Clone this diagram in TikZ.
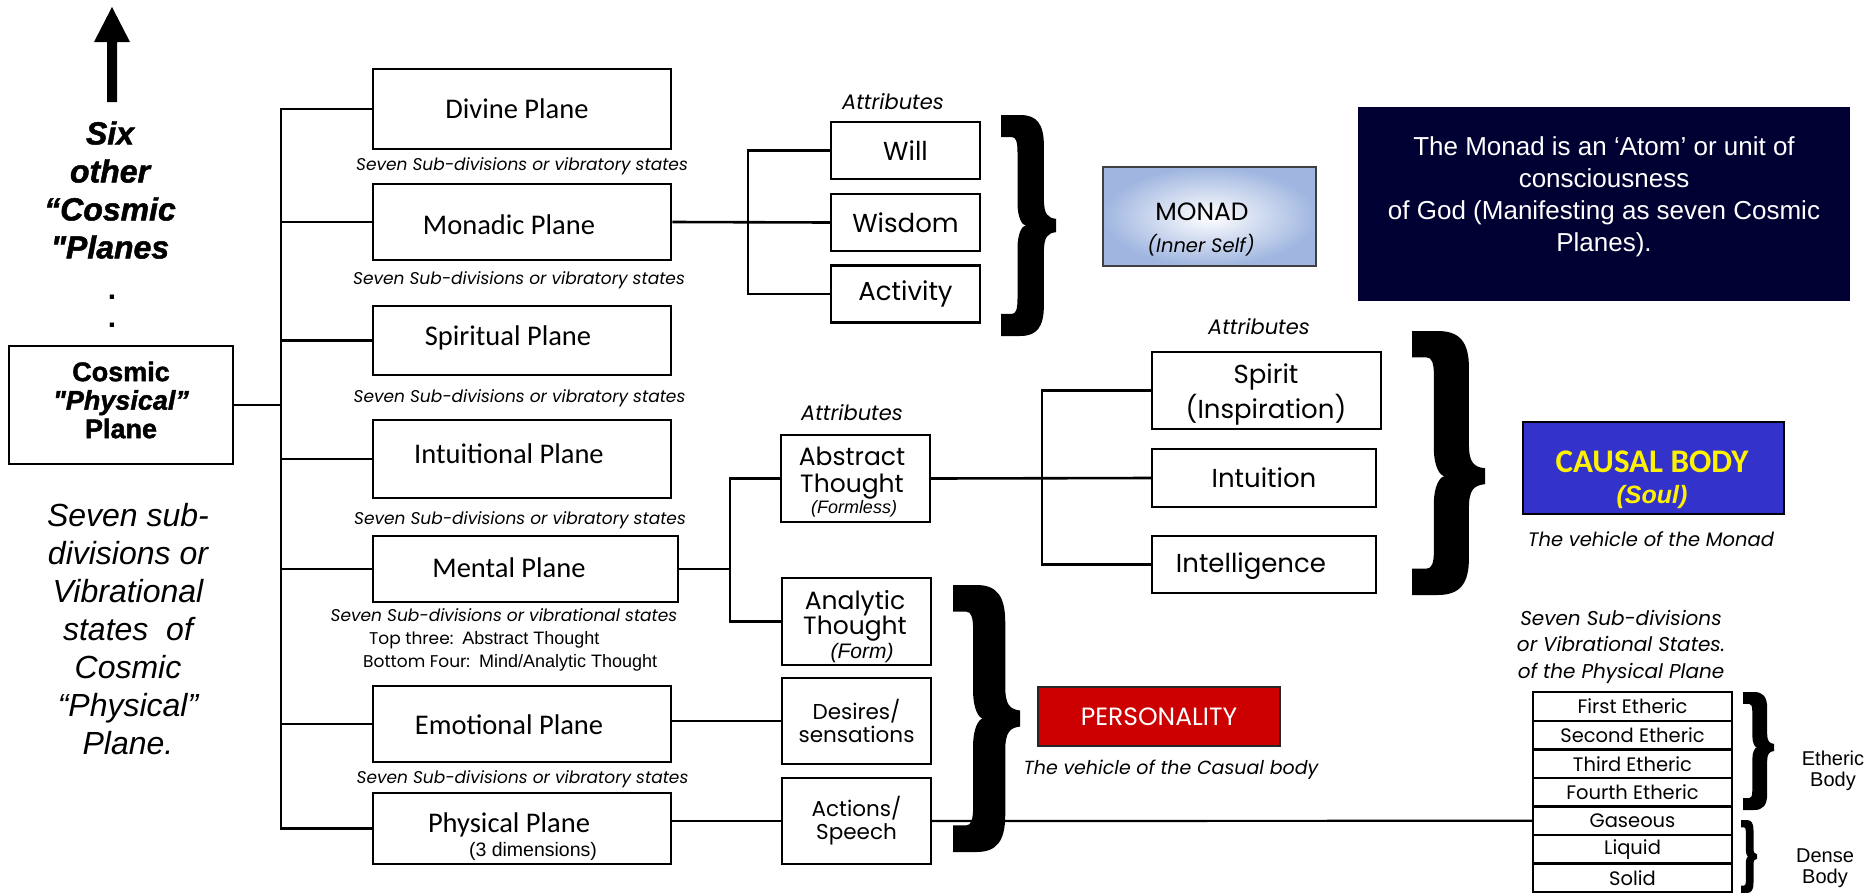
\documentclass[tikz,border=0pt]{standalone}
\usepackage{fontspec}
\setmainfont{Carlito}
\newfontfamily\fut{Poppins}
\newfontfamily\ari{Liberation Sans}
\newfontfamily\heavy{Liberation Sans}[BoldFeatures={FakeBold=1.5},BoldItalicFeatures={FakeBold=1.5}]
\newcommand\fsz[2]{\fontsize{#1pt}{#2pt}\selectfont}
\definecolor{navy}{RGB}{0,0,51}
\definecolor{causalblue}{RGB}{51,51,204}
\definecolor{pred}{RGB}{204,0,0}
\definecolor{glow}{RGB}{160,182,224}
\newcommand\bracefill[5]{%
\fill[shift={(#1,#2)}, xscale=#3, yscale=#4]
 (0,0) -- (0.35,0) .. controls (0.65,0) and (0.78,0.04) .. (0.78,0.14)
 -- (0.78,{#5-0.12}) .. controls (0.78,{#5-0.05}) and (0.85,{#5-0.035}) .. (1,{#5-0.03})
 -- (1,{#5+0.03}) .. controls (0.85,{#5+0.035}) and (0.78,{#5+0.05}) .. (0.78,{#5+0.12})
 -- (0.78,0.86) .. controls (0.78,0.96) and (0.65,1) .. (0.35,1)
 -- (0,1) -- (0,0.9) -- (0.2,0.9) .. controls (0.27,0.9) and (0.3,0.88) .. (0.3,0.83)
 -- (0.3,{#5+0.1}) .. controls (0.3,{#5+0.04}) and (0.38,#5) .. (0.45,#5)
 .. controls (0.38,#5) and (0.3,{#5-0.04}) .. (0.3,{#5-0.1})
 -- (0.3,0.17) .. controls (0.3,0.12) and (0.27,0.1) .. (0.2,0.1) -- (0,0.1) -- cycle;}
\begin{document}
\begin{tikzpicture}[x=1pt,y=-1pt,
  box/.style={draw=black, line width=2.6pt, inner sep=0pt, fill=white},
  conn/.style={line width=2.6pt},
  thinc/.style={line width=2.2pt},
  txt/.style={inner sep=0pt, align=center},
  sub/.style={txt, font=\fut\itshape\fsz{17}{20}},
  pl/.style={txt, font=\fsz{28.5}{34}},
  attr/.style={txt, font=\fut\itshape\fsz{21}{24}},
  row/.style={box, line width=2.4pt, minimum width=199pt, minimum height=28.5pt, font=\fut\fsz{19.5}{20}}
]
\useasboundingbox (0,0) rectangle (1873,892);

% arrow and left texts
\fill (107,102) -- (107,42) -- (94,42) -- (112,7) -- (130,42) -- (117,42) -- (117,102) -- cycle;
\node[txt, font=\heavy\bfseries\itshape\fsz{32}{38}] (six) at (110,190) {Six\\other\\“Cosmic\\"Planes};
\node[txt, font=\ari\bfseries\fsz{30}{30}] (dot1) at (112,297) {.};
\node[txt, font=\ari\bfseries\fsz{30}{30}] (dot2) at (112,325) {.};
\node[box, minimum width=224pt, minimum height=118pt] (cosmic) at (121,405) {};
\node[txt, font=\heavy\bfseries\fsz{27}{28.5}] (cosmic-t) at (121,400) {Cosmic\\{\itshape"Physical”}\\Plane};
\node[txt, font=\ari\itshape\fsz{32}{38}] (left) at (128,629) {Seven sub-\\divisions or\\Vibrational\\states\ \ of\\Cosmic\\“Physical”\\Plane.};

% plane boxes
\node[box, minimum width=298pt, minimum height=80pt] (divine) at (522,109) {};
\node[box, minimum width=298pt, minimum height=76pt] (monadic) at (522,222) {};
\node[box, minimum width=298pt, minimum height=69pt] (spiritual) at (522,340.5) {};
\node[box, minimum width=298pt, minimum height=78pt] (intuitional) at (522,459) {};
\node[box, minimum width=305pt, minimum height=66pt] (mental) at (525.5,569) {};
\node[box, minimum width=298pt, minimum height=76pt] (emotional) at (522,724) {};
\node[box, minimum width=298pt, minimum height=71pt] (physical) at (522,828.5) {};
\node[pl] (divine-t) at (517,109) {Divine Plane};
\node[pl] (monadic-t) at (509,225) {Monadic Plane};
\node[pl] (spiritual-t) at (508,338) {Spiritual Plane};
\node[pl] (intuitional-t) at (509,454) {Intuitional Plane};
\node[pl] (mental-t) at (509,568) {Mental Plane};
\node[pl] (emotional-t) at (509,725) {Emotional Plane};
\node[pl] (physical-t) at (509,825) {Physical Plane};
\node[txt, font=\ari\fsz{19.5}{22}] (dim) at (533,851) {(3 dimensions)};

\node[sub] (sd1) at (522,166) {Seven Sub-divisions or vibratory states};
\node[sub] (sd2) at (519,280) {Seven Sub-divisions or vibratory states};
\node[sub] (sd3) at (519.5,398) {Seven Sub-divisions or vibratory states};
\node[sub] (sd4) at (520,520) {Seven Sub-divisions or vibratory states};
\node[sub] (sd5) at (504,615) {Seven Sub-divisions or vibrational states};
\node[txt, anchor=west] (top3) at (369,640) {{\fut\fsz{17}{20}Top three:}\hspace{9pt}{\ari\fsz{18}{20}Abstract Thought}};
\node[txt, anchor=west] (bot4) at (363,663) {{\fut\fsz{17}{20}Bottom Four:}\hspace{9pt}{\ari\fsz{18}{20}Mind/Analytic Thought}};
\node[sub] (sd6) at (522.5,779) {Seven Sub-divisions or vibratory states};

% monadic attributes
\node[attr] (attr1) at (893,102) {Attributes};
\node[box, line width=2.4pt, minimum width=149pt, minimum height=57pt, font=\fut\fsz{26}{30}] (will) at (905.5,150.5) {Will};
\node[box, line width=2.4pt, minimum width=149pt, minimum height=57pt, font=\fut\fsz{26}{30}] (wisdom) at (905.5,222.5) {Wisdom};
\node[box, line width=2.4pt, minimum width=149pt, minimum height=57pt, font=\fut\fsz{26}{30}] (activity) at (905.5,294) {Activity};

\node[draw=black!75, line width=2pt, inner sep=0pt, minimum width=213pt, minimum height=99pt, inner color=white, outer color=glow] (monad) at (1209.5,216.5) {};
\node[txt, font=\fut\fsz{25}{28}] (monad-t) at (1202,212) {MONAD};
\node[txt, font=\fut\itshape\fsz{19.5}{22}] (inner) at (1201,245) {(Inner Self)};

\node[fill=navy, inner sep=0pt, minimum width=492pt, minimum height=194pt] (god) at (1604,204) {};
\node[txt, text=white, font=\ari\fsz{26}{32}] (god-t) at (1604,197) {The Monad is an ‘Atom’ or unit of\\consciousness\\of God (Manifesting as seven Cosmic\\Planes).};

% mental attributes
\node[attr] (attr2) at (852,413) {Attributes};
\node[box, line width=2.4pt, minimum width=149pt, minimum height=87pt] (abstract) at (855.5,478.5) {};
\node[txt, font=\fut\fsz{25}{27}] (abstract-t) at (852,473.5) {Abstract\\Thought};
\node[txt, font=\ari\itshape\fsz{18}{20}] (formless) at (854,509) {(Formless)};
\node[box, line width=2.4pt, minimum width=149pt, minimum height=87pt] (analytic) at (856.5,621.5) {};
\node[txt, font=\fut\fsz{25}{25}] (analytic-t) at (855,615.5) {Analytic\\Thought};
\node[txt, font=\ari\itshape\fsz{21}{22}] (form) at (862,653) {(Form)};
\node[box, line width=2.4pt, minimum width=149pt, minimum height=86pt, font=\fut\fsz{21.5}{23}, align=center] (desires) at (856.5,721) {Desires/\\sensations};
\node[box, line width=2.4pt, minimum width=149pt, minimum height=86pt, font=\fut\fsz{21.5}{23}, align=center] (actions) at (856.5,821) {Actions/\\Speech};

\node[attr] (attr3) at (1259,327) {Attributes};
\node[box, line width=2.4pt, minimum width=229pt, minimum height=77pt] (spirit) at (1266.5,390.5) {};
\node[txt, font=\fut\fsz{26}{35}] (spirit-t) at (1266,394.5) {Spirit\\(Inspiration)};
\node[box, line width=2.4pt, minimum width=224pt, minimum height=58pt, font=\fut\fsz{26}{30}] (intuition) at (1264,478) {Intuition};
\node[box, line width=2.4pt, minimum width=224pt, minimum height=57pt] (intel) at (1264,564.5) {};
\node[txt, font=\fut\fsz{26}{30}] (intel-t) at (1251,566) {Intelligence};

\node[fill=causalblue, draw=black, line width=2.6pt, inner sep=0pt, minimum width=261pt, minimum height=92pt] (causal) at (1653.5,468) {};
\node[txt, text=yellow, font=\bfseries\fsz{33}{35}] (causal-t) at (1652,462) {CAUSAL BODY};
\node[txt, text=yellow, font=\ari\bfseries\itshape\fsz{25}{28}] (soul) at (1652,497) {(Soul)};
\node[txt, font=\fut\itshape\fsz{19.5}{22}] (veh1) at (1651,539) {The vehicle of the Monad};

\node[fill=pred, draw=black!85, line width=2.2pt, inner sep=0pt, minimum width=242pt, minimum height=59pt, text=white, font=\fut\fsz{25}{26}] (pers) at (1159,716.5) {PERSONALITY};
\node[txt, font=\fut\itshape\fsz{19}{22}] (veh2) at (1171,770) {The vehicle of the Casual body};

% physical sub-planes
\node[txt, font=\fut\itshape\fsz{20}{26.5}] (sh) at (1621,646.5) {Seven Sub-divisions\\or Vibrational States.\\of the Physical Plane};
\node[row] (e1) at (1632.5,706.5) {First Etheric};
\node[row] (e2) at (1632.5,735.25) {Second Etheric};
\node[row] (e3) at (1632.5,763.75) {Third Etheric};
\node[row] (e4) at (1632.5,792.25) {Fourth Etheric};
\node[row] (gas) at (1632.5,820.75) {Gaseous};
\node[row] (liq) at (1632.5,849.25) {Liquid};
\node[row] (sol) at (1632.5,877.75) {Solid};
\node[txt, font=\ari\fsz{20}{21}] (eb) at (1833,770.5) {Etheric\\Body};
\node[txt, font=\ari\fsz{20}{21}] (db) at (1825,868) {Dense\\Body};

% connectors
\coordinate (tx) at (281,0);
\coordinate (wx) at (748,0);
\coordinate (mx) at (730,0);
\coordinate (ax) at (1042,0);
\draw[conn] (divine.west) -- (divine.west -| tx) -- (physical.west -| tx) -- (physical.west);
\foreach \nm in {monadic,spiritual,intuitional,mental,emotional} \draw[conn] (\nm.west) -- (\nm.west -| tx);
\draw[conn] (cosmic.east) -- (cosmic.east -| tx);
\draw[thinc] (will.west) -- (will.west -| wx) -- (activity.west -| wx) -- (activity.west);
\draw[conn] (monadic.east) -- (wisdom.west);
\draw[thinc] (abstract.west) -- (abstract.west -| mx) -- (analytic.west -| mx) -- (analytic.west);
\draw[conn] (mental.east) -- (mental.east -| mx);
\draw[thinc] (spirit.west) -- (spirit.west -| ax) -- (intel.west -| ax) -- (intel.west);
\draw[conn] (abstract.east) -- (intuition.west);
\draw[thinc] (desires.west -| emotional.east) -- (desires.west);
\draw[thinc] (actions.west -| physical.east) -- (actions.west);
\draw[thinc] (actions.east) -- (gas.west);

% braces
\bracefill{1001}{115}{55}{221}{0.5}
\bracefill{1412}{331}{73}{264}{0.55}
\bracefill{953}{585}{67}{267}{0.5}
\bracefill{1743}{692}{31}{118}{0.47}
\bracefill{1741}{820}{16}{73}{0.5}
\end{tikzpicture}
\end{document}
